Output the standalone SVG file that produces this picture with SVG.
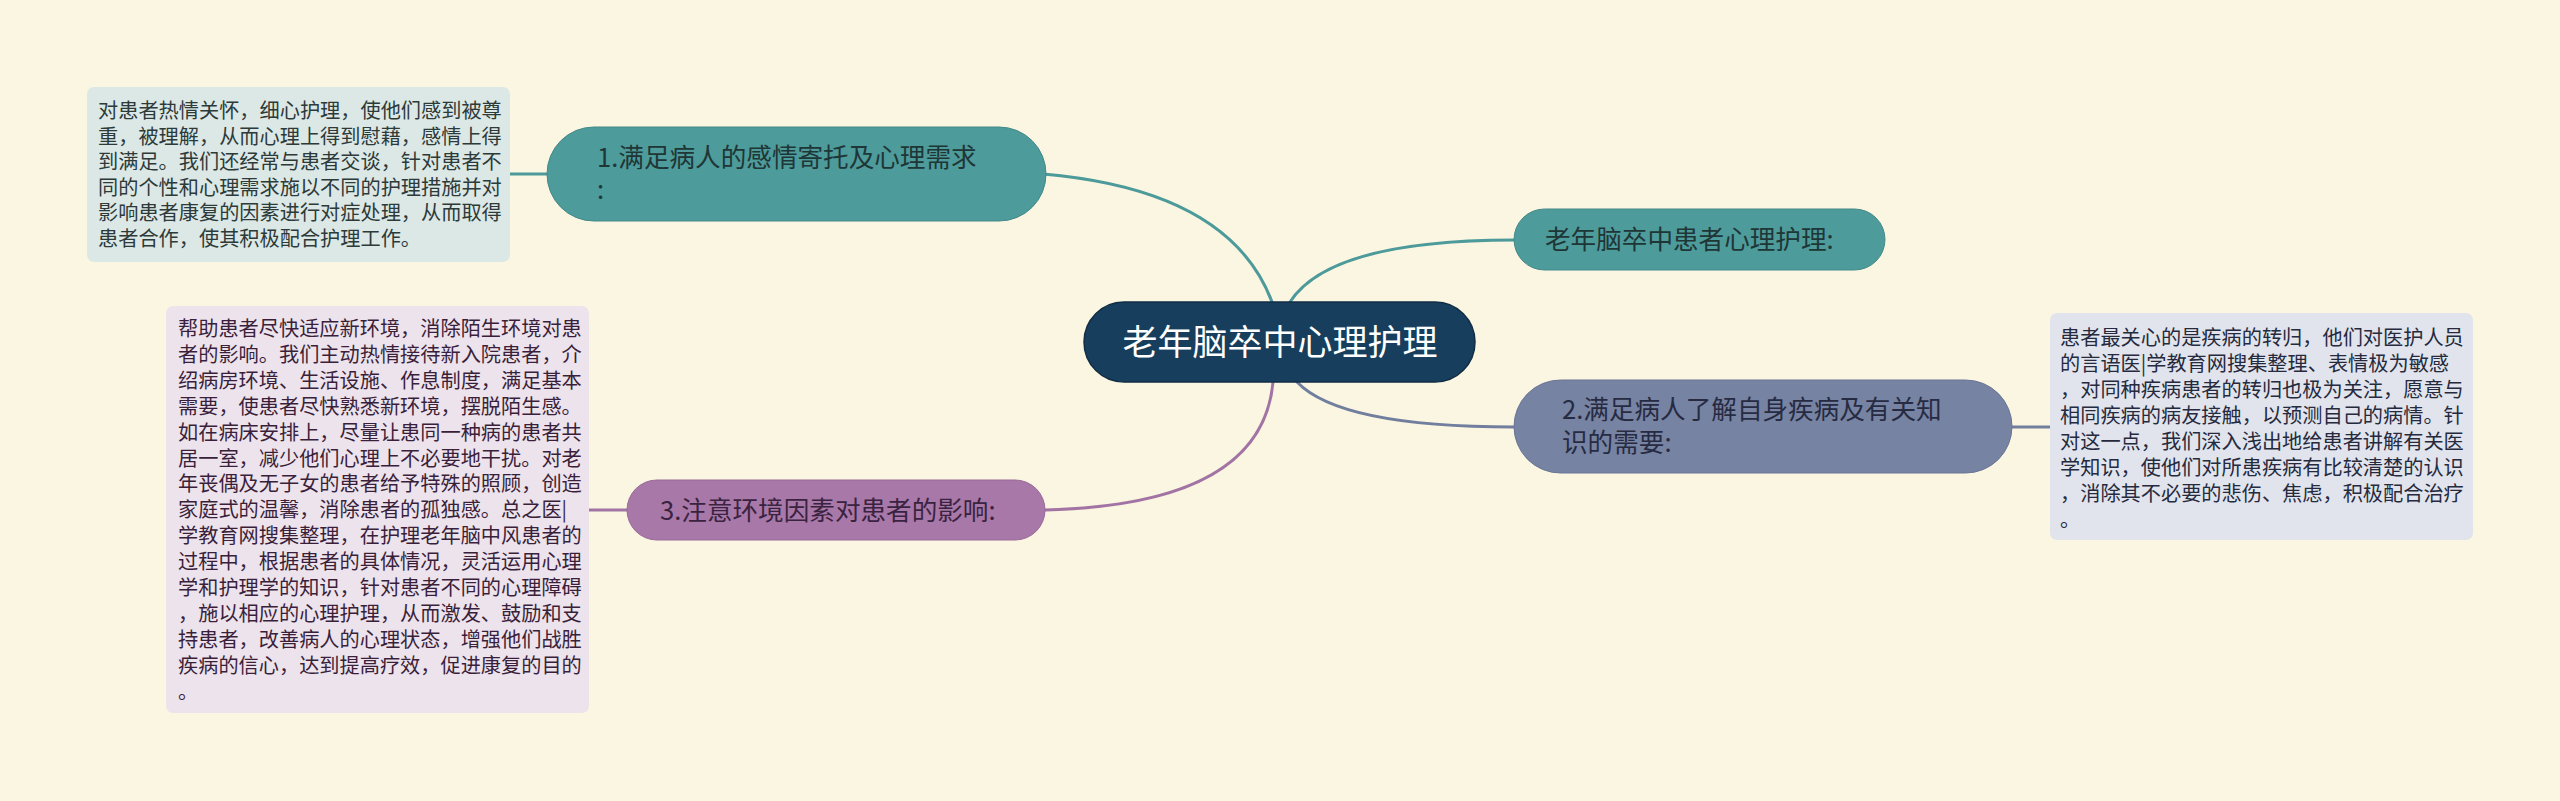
<svg xmlns="http://www.w3.org/2000/svg" width="2560" height="801" viewBox="0 0 2560 801">
<style>
text{font-family:"Noto Sans CJK SC","Noto Sans",sans-serif;}
.c{fill:none;stroke-width:3;stroke-linecap:round;}
.teal{stroke:#4d9a9a;}
.blue{stroke:#717e9e;}
.purp{stroke:#a274a4;}
.n{font-size:25.6px;}
.leaf{font-size:20.2px;}
</style>
<rect x="0" y="0" width="2560" height="801" fill="#fbf6e2"/>
<g id="connectors">
<path class="c teal" d="M1043,174 Q1230,190 1272,302"/>
<path class="c teal" d="M1290,302 Q1330,240 1514,240"/>
<path class="c purp" d="M1273,382 Q1262,505 1045,510"/>
<path class="c blue" d="M1297,382 Q1340,427 1514,427"/>
<path class="c teal" d="M510,174 L547,174"/>
<path class="c blue" d="M2012,427 L2050,427"/>
<path class="c purp" d="M589,510 L627,510"/>
</g>
<g id="center">
<rect x="1084" y="302" width="391" height="80" rx="40" fill="#183e5d" stroke="#102d45" stroke-width="1.5"/>
<text x="1280" y="355" font-size="35" fill="#ffffff" text-anchor="middle">老年脑卒中心理护理</text>
</g>
<g id="node1">
<rect x="547" y="127" width="499" height="94" rx="47" fill="#4e9b9b" stroke="#43898a" stroke-width="1"/>
<text class="n" fill="#1e3636"><tspan x="597" y="166.5">1.满足病人的感情寄托及心理需求</tspan><tspan x="597" y="199">:</tspan></text>
</g>
<g id="node0">
<rect x="1514" y="209" width="371" height="61" rx="30.5" fill="#4e9b9b" stroke="#43898a" stroke-width="1"/>
<text class="n" x="1545" y="249" fill="#1e3636">老年脑卒中患者心理护理:</text>
</g>
<g id="node2">
<rect x="1514" y="380" width="498" height="93" rx="46.5" fill="#7783a3" stroke="#6a7594" stroke-width="1"/>
<text class="n" fill="#262b42"><tspan x="1562" y="419">2.满足病人了解自身疾病及有关知</tspan><tspan x="1562" y="452">识的需要:</tspan></text>
</g>
<g id="node3">
<rect x="627" y="480" width="418" height="60" rx="30" fill="#a878a8" stroke="#986a98" stroke-width="1"/>
<text class="n" x="660" y="519.5" fill="#3a2340">3.注意环境因素对患者的影响:</text>
</g>
<g id="leaf1">
<rect x="87" y="87" width="423" height="175" rx="7" fill="#dce8e5"/>
<text class="leaf" fill="#2c3a3a">
<tspan x="98" y="118">对患者热情关怀，细心护理，使他们感到被尊</tspan>
<tspan x="98" y="143.6">重，被理解，从而心理上得到慰藉，感情上得</tspan>
<tspan x="98" y="169.2">到满足。我们还经常与患者交谈，针对患者不</tspan>
<tspan x="98" y="194.8">同的个性和心理需求施以不同的护理措施并对</tspan>
<tspan x="98" y="220.4">影响患者康复的因素进行对症处理，从而取得</tspan>
<tspan x="98" y="246">患者合作，使其积极配合护理工作。</tspan>
</text>
</g>
<g id="leaf2">
<rect x="2050" y="313" width="423" height="227" rx="7" fill="#e1e4ec"/>
<text class="leaf" fill="#252a3e">
<tspan x="2060" y="345">患者最关心的是疾病的转归，他们对医护人员</tspan>
<tspan x="2060" y="371">的言语医|学教育网搜集整理、表情极为敏感</tspan>
<tspan x="2060" y="397">，对同种疾病患者的转归也极为关注，愿意与</tspan>
<tspan x="2060" y="423">相同疾病的病友接触，以预测自己的病情。针</tspan>
<tspan x="2060" y="449">对这一点，我们深入浅出地给患者讲解有关医</tspan>
<tspan x="2060" y="475">学知识，使他们对所患疾病有比较清楚的认识</tspan>
<tspan x="2060" y="501">，消除其不必要的悲伤、焦虑，积极配合治疗</tspan>
<tspan x="2060" y="527">。</tspan>
</text>
</g>
<g id="leaf3">
<rect x="166" y="306" width="423" height="407" rx="7" fill="#ede3ed"/>
<text class="leaf" fill="#3a1f3a">
<tspan x="178" y="336">帮助患者尽快适应新环境，消除陌生环境对患</tspan>
<tspan x="178" y="361.9">者的影响。我们主动热情接待新入院患者，介</tspan>
<tspan x="178" y="387.8">绍病房环境、生活设施、作息制度，满足基本</tspan>
<tspan x="178" y="413.7">需要，使患者尽快熟悉新环境，摆脱陌生感。</tspan>
<tspan x="178" y="439.6">如在病床安排上，尽量让患同一种病的患者共</tspan>
<tspan x="178" y="465.5">居一室，减少他们心理上不必要地干扰。对老</tspan>
<tspan x="178" y="491.4">年丧偶及无子女的患者给予特殊的照顾，创造</tspan>
<tspan x="178" y="517.3">家庭式的温馨，消除患者的孤独感。总之医|</tspan>
<tspan x="178" y="543.2">学教育网搜集整理，在护理老年脑中风患者的</tspan>
<tspan x="178" y="569.1">过程中，根据患者的具体情况，灵活运用心理</tspan>
<tspan x="178" y="595">学和护理学的知识，针对患者不同的心理障碍</tspan>
<tspan x="178" y="620.9">，施以相应的心理护理，从而激发、鼓励和支</tspan>
<tspan x="178" y="646.8">持患者，改善病人的心理状态，增强他们战胜</tspan>
<tspan x="178" y="672.7">疾病的信心，达到提高疗效，促进康复的目的</tspan>
<tspan x="178" y="698.6">。</tspan>
</text>
</g>
</svg>
